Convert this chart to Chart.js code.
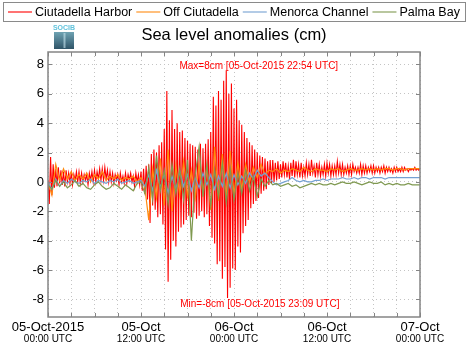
<!DOCTYPE html>
<html lang="en">
<head>
<meta charset="UTF-8">
<title>Sea level anomalies (cm)</title>
<script src="https://cdn.jsdelivr.net/npm/chart.js"></script>
<style>
  html, body { margin: 0; padding: 0; background: #fff; }
  #wrap { width: 468px; height: 353px; }
</style>
</head>
<body>
<div id="wrap"><canvas id="chart"></canvas></div>
<script>
// hours since 05-Oct-2015 00:00 UTC
const harborStep = 1 / 6;   // 10 min
const otherStep = 0.5;      // 30 min

// one row per hour, 00 10 20 30 40 50 min
const harbor = [
  0.1, -1.5, 1.7, -0.9, 1.2, -0.4,
  0.9, -0.3, 1.0, -0.1, 0.8, -0.2,
  0.7, -0.3, 0.8, 0.0, 0.6, -0.1,
  0.6, -0.2, 0.5, 0.1, 0.7, 0.0,
  0.7, -0.1, 0.6, 0.0, 0.5, 0.1,
  0.5, -0.2, 0.6, 0.1, 0.7, 0.0,
  0.8, 0.0, 0.7, 0.2, 0.9, 0.1,
  0.9, 0.1, 1.0, 0.2, 0.8, 0.0,
  0.7, 0.0, 0.6, -0.1, 0.5, 0.1,
  0.5, -0.2, 0.6, 0.0, 0.4, -0.1,
  0.6, -0.1, 0.5, 0.1, 0.6, 0.0,
  0.4, -0.3, 0.6, 0.0, 0.5, -0.2,
  0.7, -0.6, 0.9, -0.8, 1.1, -1.2,
  1.2, -2.8, 1.9, -1.6, 2.2, -1.9,
  2.0, -2.4, 2.5, -2.2, 2.7, -2.9,
  3.6, -4.6, 6.2, -6.8, 4.2, -5.3,
  4.9, -4.0, 3.6, -4.4, 4.0, -3.4,
  3.4, -3.1, 3.5, -2.9, 3.0, -2.6,
  2.8, -2.3, 2.6, -2.4, 2.5, -2.1,
  2.4, -2.5, 2.2, -2.3, 2.6, -2.0,
  2.3, -2.4, 2.6, -2.2, 2.9, -3.0,
  3.4, -3.8, 5.8, -4.2, 5.2, -5.6,
  6.2, -5.4, 5.6, -6.6, 6.9, -5.8,
  7.6, -7.9, 6.0, -7.2, 6.7, -5.9,
  5.0, -6.0, 5.6, -4.4, 4.2, -4.8,
  3.9, -3.5, 3.4, -3.0, 3.0, -2.6,
  2.7, -1.8, 2.5, -1.5, 2.2, -1.3,
  2.0, -1.1, 1.8, -0.8, 1.7, -0.6,
  1.6, -0.5, 1.4, -0.2, 1.5, -0.1,
  1.5, 0.0, 1.3, 0.1, 1.4, 0.2,
  1.2, 0.3, 1.4, 0.5, 1.3, 0.3,
  1.1, 0.2, 1.3, 0.4, 1.5, 0.3,
  1.4, 0.5, 1.2, 0.3, 1.3, 0.4,
  1.0, 0.4, 1.3, 0.5, 1.2, 0.4,
  1.5, 0.6, 1.1, 0.3, 1.3, 0.5,
  1.2, 0.4, 1.0, 0.5, 1.2, 0.4,
  1.3, 0.6, 1.2, 0.4, 1.1, 0.5,
  1.1, 0.5, 1.4, 0.6, 1.2, 0.5,
  1.2, 0.5, 1.0, 0.6, 1.1, 0.5,
  1.1, 0.5, 1.2, 0.7, 1.0, 0.6,
  1.0, 0.6, 1.2, 0.5, 1.1, 0.6,
  1.1, 0.6, 1.0, 0.7, 1.1, 0.6,
  1.1, 0.6, 1.0, 0.7, 1.0, 0.6,
  1.0, 0.7, 1.1, 0.6, 1.0, 0.7,
  1.0, 0.7, 0.9, 0.6, 1.0, 0.7,
  1.0, 0.7, 0.9, 0.7, 1.0, 0.7,
  1.0, 0.8, 0.9, 0.7, 0.9, 0.8,
  0.9, 0.8, 1.0, 0.8, 0.9, 0.8,
  0.9
];

const offCiutadella = [
  0.0, -0.9, 1.2, 0.1, 0.9, 0.2, 0.7, 0.1, 0.5, 0.2, 0.6, 0.0,
  0.5, 0.2, 0.7, 0.1, 0.4, 0.2, 0.5, 0.1, 0.3, 0.2, 0.4, 0.0,
  0.3, -0.4, -2.6, 0.9, -1.1, 1.6, -1.6, 2.2, -2.0, 1.1, -0.9, 1.4,
  -1.0, 0.8, -1.1, 1.2, -0.8, 1.0, -1.9, 2.4, -1.3, 1.9, -1.1, 2.1,
  -0.9, 1.3, -0.5, 1.2, 0.0, 1.0, 0.3, 1.2, 0.5, 0.8,
  0.7, 0.9, 0.6, 0.8, 0.7, 0.9, 0.8, 0.7, 1.0, 0.8, 0.7, 0.9, 0.8,
  0.8, 0.7, 0.9, 0.8, 0.9, 0.7, 0.8, 0.9, 0.8, 0.8, 0.9, 0.8, 0.9,
  0.8, 0.9, 0.8, 0.9, 0.9, 0.8, 0.9, 0.9, 0.8, 0.9, 0.9, 0.9, 0.9
];

const menorcaChannel = [
  0.0, -0.5, 0.2, -0.3, 0.1, -0.1, 0.2, 0.0, -0.1, 0.1, 0.0, 0.2,
  -0.1, 0.1, 0.0, -0.1, 0.1, 0.0, 0.2, -0.1, 0.0, 0.1, -0.1, 0.0,
  0.1, -0.3, 0.5, -0.6, 0.8, -0.4, 0.6, -0.8, 0.4, -0.5, 0.7, -0.3,
  0.5, -0.6, 0.3, -0.4, 0.6, -0.2, 0.5, -0.5, 0.4, -0.3, 0.6, -0.4,
  0.5, -0.2, 0.4, -0.1, 0.6, 0.2, 0.8, 0.4, 0.6, 0.3,
  0.0, -0.2, -0.1, 0.0, 0.1, 0.3, 0.1, 0.0, 0.1, 0.0, 0.0, 0.1, 0.1,
  0.2, 0.1, 0.2, 0.2, 0.2, 0.3, 0.2, 0.2, 0.3, 0.2, 0.3, 0.3, 0.2,
  0.3, 0.3, 0.3, 0.2, 0.3, 0.3, 0.3, 0.3, 0.3, 0.3, 0.3, 0.3, 0.3
];

const palmaBay = [
  -0.2, -0.5, 0.1, -0.3, 0.0, -0.4, -0.2, 0.1, -0.3, -0.1, -0.4, -0.5,
  -0.2, 0.0, -0.3, -0.5, -0.4, -0.1, -0.3, -0.5, -0.2, -0.4, -0.6, -0.1,
  0.0, -0.8, 1.0, -1.2, 1.8, -0.6, 0.8, -1.5, 1.2, -0.8, 0.9, -1.2,
  1.5, -4.0, 0.5, 2.4, -1.0, 1.2, -1.6, 0.8, -1.0, 1.3, -1.4, 0.9,
  -1.2, 0.6, -0.8, 0.8, -0.6, 0.4, -1.0, 0.2, -0.3, 0.1,
  -0.2, -0.1, -0.3, -0.2, -0.1, -0.3, -0.2, -0.4, -0.3, -0.2, -0.1, -0.2, -0.1,
  -0.2, -0.2, -0.1, -0.2, -0.1, 0.0, -0.1, -0.1, 0.0, -0.1, -0.2, -0.1, 0.0,
  -0.1, -0.1, 0.0, -0.2, -0.1, -0.2, -0.1, -0.2, -0.2, -0.1, -0.2, -0.2, -0.2
];

const seriesNames = ['Ciutadella Harbor', 'Off Ciutadella', 'Menorca Channel', 'Palma Bay'];
const seriesColors = ['#ff0000', '#ff8a10', '#74a0d2', '#7f9950'];

const xTickHours = [0, 3, 6, 9, 12, 15, 18, 21, 24, 27, 30, 33, 36, 39, 42, 45, 48];
const xLabelHours = [0, 12, 24, 36, 48];
const xLabelDays = ['05-Oct-2015', '05-Oct', '06-Oct', '06-Oct', '07-Oct'];
const xLabelTimes = ['00:00 UTC', '12:00 UTC', '00:00 UTC', '12:00 UTC', '00:00 UTC'];
const yTicks = [-8, -6, -4, -2, 0, 2, 4, 6, 8];

const titleText = 'Sea level anomalies (cm)';
const maxText = 'Max=8cm [05-Oct-2015 22:54 UTC]';
const minText = 'Min=-8cm [05-Oct-2015 23:09 UTC]';

const FONT = '"Liberation Sans", Arial, Helvetica, sans-serif';

const toPoints = (values, step) => values.map((v, i) => ({x: i * step, y: v}));

const allSeries = [
  toPoints(harbor, harborStep),
  toPoints(offCiutadella, otherStep),
  toPoints(menorcaChannel, otherStep),
  toPoints(palmaBay, otherStep)
];

// frame, inward ticks, legend box, logo, title, x labels, max/min notes
const decorations = {
  id: 'decorations',
  afterDatasetsDraw(chart) {
    const {ctx, chartArea: a, scales: {x, y}} = chart;
    ctx.save();

    // notes
    ctx.fillStyle = '#ff0000';
    ctx.font = '10px ' + FONT;
    ctx.textAlign = 'center';
    ctx.textBaseline = 'middle';
    const noteX = x.getPixelForValue(27.2);
    ctx.fillText(maxText, noteX, a.top + 14);
    ctx.fillText(minText, noteX + 1, a.bottom - 13);

    // frame
    ctx.strokeStyle = '#858585';
    ctx.lineWidth = 1.5;
    ctx.strokeRect(a.left, a.top, a.right - a.left, a.bottom - a.top);
    ctx.lineWidth = 1;
    ctx.beginPath();
    xTickHours.forEach(h => {
      const px = Math.round(x.getPixelForValue(h)) + 0.5;
      ctx.moveTo(px, a.bottom); ctx.lineTo(px, a.bottom - 4);
      ctx.moveTo(px, a.top); ctx.lineTo(px, a.top + 4);
    });
    yTicks.forEach(v => {
      const py = Math.round(y.getPixelForValue(v)) + 0.5;
      ctx.moveTo(a.left, py); ctx.lineTo(a.left + 4, py);
      ctx.moveTo(a.right, py); ctx.lineTo(a.right - 4, py);
    });
    ctx.stroke();

    // x labels, two lines
    ctx.fillStyle = '#000';
    xLabelHours.forEach((h, i) => {
      const px = x.getPixelForValue(h);
      ctx.font = '13px ' + FONT;
      ctx.fillText(xLabelDays[i], px, a.bottom + 10);
      ctx.font = '10px ' + FONT;
      ctx.fillText(xLabelTimes[i], px, a.bottom + 22);
    });

    // title, centred on the plot
    ctx.font = '16.5px ' + FONT;
    ctx.fillText(titleText, (a.left + a.right) / 2, 35.5);

    // legend
    ctx.strokeStyle = '#8a8a8a';
    ctx.lineWidth = 1;
    ctx.strokeRect(3.5, 2.5, 462, 19);
    ctx.font = '12.5px ' + FONT;
    ctx.textAlign = 'left';
    let lx = 8;
    seriesNames.forEach((name, i) => {
      ctx.globalAlpha = 0.55;
      ctx.strokeStyle = seriesColors[i];
      ctx.lineWidth = 2;
      ctx.beginPath();
      ctx.moveTo(lx, 12); ctx.lineTo(lx + 24, 12);
      ctx.stroke();
      ctx.globalAlpha = 1;
      ctx.fillStyle = '#000';
      ctx.fillText(name, lx + 27, 12.5);
      lx += 27 + ctx.measureText(name).width + 4;
    });

    // SOCIB logo
    const g = ctx.createLinearGradient(0, 32, 0, 50);
    g.addColorStop(0, '#6fa3b3');
    g.addColorStop(1, '#2b4f63');
    ctx.fillStyle = g;
    ctx.fillRect(54, 32, 20, 17);
    ctx.strokeStyle = 'rgba(200,230,240,0.6)';
    ctx.beginPath();
    ctx.moveTo(64.5, 33); ctx.lineTo(64.5, 48);
    ctx.stroke();
    ctx.fillStyle = '#62c3dc';
    ctx.font = 'bold 7px ' + FONT;
    ctx.textAlign = 'center';
    ctx.fillText('SOCIB', 64, 28.5);

    ctx.restore();
  }
};

new Chart(document.getElementById('chart'), {
  type: 'line',
  data: {
    datasets: allSeries.map((pts, i) => ({
      label: seriesNames[i],
      data: pts,
      borderColor: seriesColors[i],
      backgroundColor: seriesColors[i],
      borderWidth: i === 0 ? 1.1 : 1.2,
      pointRadius: 0,
      tension: 0,
      order: 4 - i
    }))
  },
  options: {
    responsive: true,
    maintainAspectRatio: false,
    animation: false,
    layout: {padding: {top: 52, right: 48, left: 0, bottom: 0}},
    plugins: {
      legend: {display: false},
      tooltip: {enabled: false},
      title: {display: false}
    },
    scales: {
      x: {
        type: 'linear',
        min: 0,
        max: 48,
        afterBuildTicks: s => { s.ticks = xTickHours.map(v => ({value: v})); },
        afterFit: s => { s.height = 36; },
        ticks: {display: false},
        grid: {color: '#c4c4c4', drawTicks: false, lineWidth: 1},
        border: {display: false, dash: [1, 3]}
      },
      y: {
        type: 'linear',
        min: -9.2,
        max: 8.85,
        afterBuildTicks: s => { s.ticks = yTicks.map(v => ({value: v})); },
        afterFit: s => { s.width = 48; },
        ticks: {color: '#000', padding: 4, font: {family: FONT, size: 13}},
        grid: {color: '#c4c4c4', drawTicks: false, lineWidth: 1},
        border: {display: false, dash: [1, 3]}
      }
    }
  },
  plugins: [decorations]
});
</script>
</body>
</html>
